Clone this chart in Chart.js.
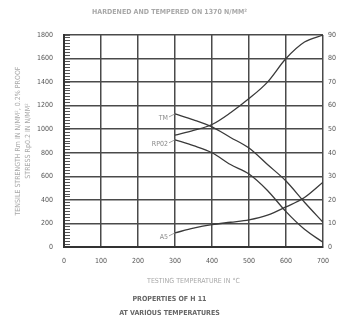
<!DOCTYPE html>
<html>
<head>
<meta charset="utf-8">
<script src="https://cdn.jsdelivr.net/npm/chart.js@4"></script>
<style>
  html, body { margin: 0; padding: 0; background: #fff; }
</style>
</head>
<body>
<canvas id="myChart" width="339" height="324"></canvas>
<script>
// values
var temperatures = [300, 350, 400, 450, 500, 550, 600, 650, 700];
var tensile = [1130, 1080, 1020, 930, 840, 700, 560, 380, 210];     // N/mm2, left axis
var proof = [910, 860, 800, 700, 620, 480, 300, 150, 40];           // N/mm2, left axis
var elongation = [6, 8, 9.5, 10.5, 11.5, 13.5, 17, 21, 27.5];       // %, right axis
var reduction = [47.5, 49.5, 52, 57, 63, 70, 80, 87, 90];           // %, right axis
var curveNames = ['TM', 'RP02', 'A5', ''];

var FONT = "'Liberation Sans Narrow', 'DejaVu Sans Condensed', 'Liberation Sans', sans-serif";
var GRID = '#4a4a4a';

function points(values) {
    return temperatures.map(function (t, i) { return { x: t, y: values[i] }; });
}

function lineSet(name, values, axis) {
    return {
        label: name,
        data: points(values),
        yAxisID: axis,
        borderColor: '#3a3a3a',
        borderWidth: 1.3,
        pointRadius: 0,
        cubicInterpolationMode: 'monotone',
        fill: false
    };
}

// writes the curve name in front of the first point of each line
var curveLabelPlugin = {
    id: 'curveLabels',
    afterDatasetsDraw: function (chart) {
        var ctx = chart.ctx;
        ctx.save();
        ctx.font = '7px ' + FONT;
        ctx.fillStyle = '#8a8a8a';
        ctx.strokeStyle = '#8a8a8a';
        ctx.lineWidth = 0.8;
        ctx.textAlign = 'right';
        ctx.textBaseline = 'middle';
        chart.data.datasets.forEach(function (ds, i) {
            if (!ds.label) return;
            var p = chart.getDatasetMeta(i).data[0];
            ctx.beginPath();
            ctx.moveTo(p.x - 6, p.y + 3);
            ctx.lineTo(p.x, p.y);
            ctx.stroke();
            ctx.fillText(ds.label, p.x - 7, p.y + 4);
        });
        ctx.restore();
    }
};

var plain = { useGrouping: false };

var ctx = document.getElementById('myChart').getContext('2d');
new Chart(ctx, {
    type: 'line',
    data: {
        datasets: [
            lineSet(curveNames[0], tensile, 'y'),
            lineSet(curveNames[1], proof, 'y'),
            lineSet(curveNames[2], elongation, 'y1'),
            lineSet(curveNames[3], reduction, 'y1')
        ]
    },
    options: {
        responsive: false,
        animation: false,
        layout: { padding: 0 },
        plugins: {
            legend: { display: false },
            tooltip: { enabled: false },
            title: {
                display: true,
                text: 'HARDENED AND TEMPERED ON 1370 N/MM\u00B2',
                color: '#a8a8a8',
                font: { family: FONT, size: 7 },
                padding: { top: 8, bottom: 18.6 }
            },
            subtitle: {
                display: true,
                position: 'bottom',
                text: ['PROPERTIES OF H 11', 'AT VARIOUS TEMPERATURES'],
                color: '#666',
                font: { family: FONT, size: 7, weight: 'bold', lineHeight: 2 },
                padding: { top: 0, bottom: 4 }
            }
        },
        scales: {
            x: {
                type: 'linear',
                min: 0,
                max: 700,
                ticks: { stepSize: 100, format: plain, color: '#555', padding: 10, font: { family: FONT, size: 7 } },
                grid: { color: GRID, lineWidth: 1.5, drawTicks: false },
                border: { color: '#333', width: 2 },
                title: {
                    display: true,
                    text: 'TESTING TEMPERATURE IN \u00B0C',
                    color: '#a8a8a8',
                    font: { family: FONT, size: 7 },
                    padding: { top: 0, bottom: 7 }
                },
                afterFit: function (s) { s.height = 45; }
            },
            y: {
                position: 'left',
                weight: 1,
                min: 0,
                max: 1800,
                ticks: { stepSize: 200, format: plain, color: '#555', padding: 11, font: { family: FONT, size: 7 } },
                grid: { color: GRID, lineWidth: 1.5, drawTicks: false },
                border: { color: '#333', width: 2 },
                title: {
                    display: true,
                    text: ['TENSILE STRENGTH Rm IN N/MM\u00B2, 0.2% PROOF', 'STRESS Rp0.2 IN N/MM\u00B2'],
                    color: '#a8a8a8',
                    font: { family: FONT, size: 7, lineHeight: 1.45 },
                    padding: { top: 13, bottom: 0 }
                },
                afterFit: function (s) { s.width = 64; }
            },
            yMinor: {
                position: 'left',
                weight: 0,
                min: 0,
                max: 1800,
                ticks: { display: false, stepSize: 25 },
                grid: { drawOnChartArea: false, drawTicks: true, tickLength: -6, color: '#555', lineWidth: 1 },
                border: { display: false },
                afterFit: function (s) { s.width = 0; }
            },
            y1: {
                position: 'right',
                min: 0,
                max: 90,
                ticks: { stepSize: 10, format: plain, color: '#555', padding: 5, font: { family: FONT, size: 7 } },
                grid: { drawOnChartArea: false, drawTicks: false },
                border: { display: false },
                afterFit: function (s) { s.width = 16; }
            }
        }
    },
    plugins: [curveLabelPlugin]
});
</script>
</body>
</html>
